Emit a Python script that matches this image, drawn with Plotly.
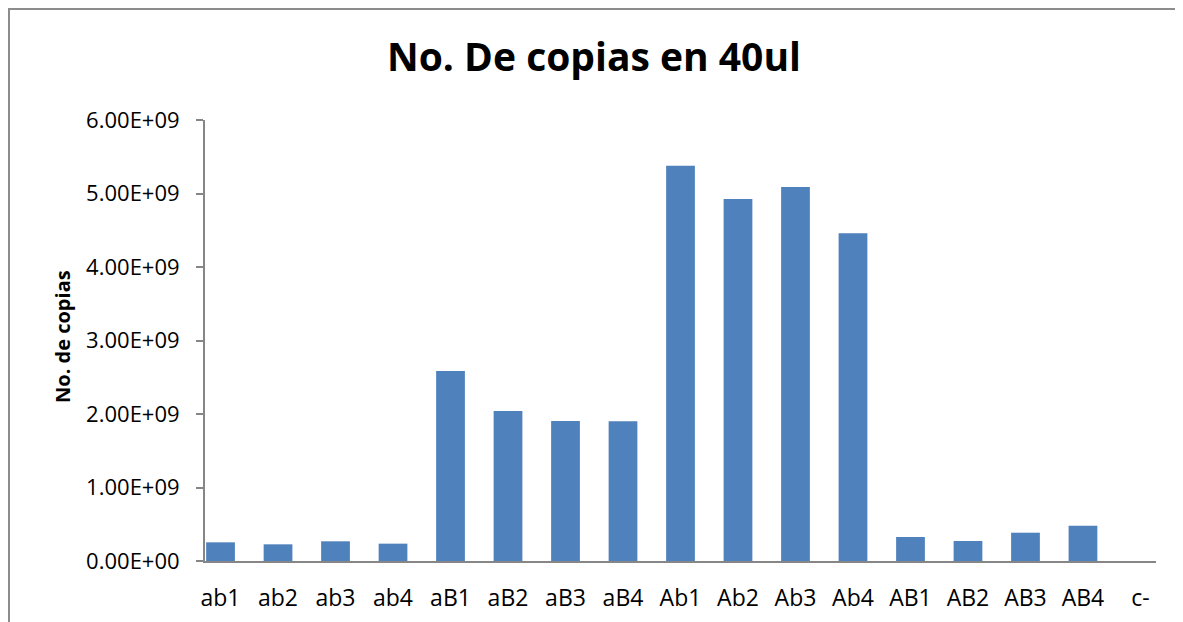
import plotly.graph_objects as go

categories = ["ab1", "ab2", "ab3", "ab4", "aB1", "aB2", "aB3", "aB4",
              "Ab1", "Ab2", "Ab3", "Ab4", "AB1", "AB2", "AB3", "AB4", "c-"]
copies = [0.254e9, 0.227e9, 0.268e9, 0.236e9, 2.585e9, 2.04e9, 1.905e9, 1.90e9,
          5.378e9, 4.925e9, 5.088e9, 4.46e9, 0.327e9, 0.272e9, 0.385e9, 0.48e9, 0.0]
y_tickvals = [0, 1e9, 2e9, 3e9, 4e9, 5e9, 6e9]
y_ticktext = ["0.00E+00", "1.00E+09", "2.00E+09", "3.00E+09", "4.00E+09", "5.00E+09", "6.00E+09"]

# page has an 8px body margin; work in page pixels and convert
OFF = 8
W, H = 1183 - OFF, 622 - OFF
PL, PR, PT, PB = 205, 1156, 120, 561  # plot area in page pixels
L, R, T, B = PL - OFF, W - (PR - OFF), PT - OFF, H - (PB - OFF)
pw, ph = W - L - R, H - T - B

def px_to_paper_x(px):
    return (px - OFF - L) / pw

def px_to_paper_y(py):
    return (H - B - (py - OFF)) / ph

FONT = "Open Sans"
AXC = "#868686"

fig = go.Figure(go.Bar(
    x=list(range(len(categories))), y=copies, width=0.5,
    marker=dict(color="#4f81bd", line=dict(width=0)),
))

fig.update_layout(
    width=W, height=H,
    margin=dict(l=L, r=R, t=T, b=B, autoexpand=False),
    paper_bgcolor="white", plot_bgcolor="white",
    showlegend=False,
    font=dict(family=FONT, color="black"),
    xaxis=dict(
        range=[-0.27, 16.27], tickmode="array",
        tickvals=list(range(len(categories))), ticktext=categories,
        showline=True, linecolor=AXC, linewidth=2, ticks="",
        showgrid=False, zeroline=False,
        tickfont=dict(size=23, family=FONT, color="black"),
        ticklabelstandoff=15,
    ),
    yaxis=dict(
        range=[0, 6e9], tickmode="array", tickvals=y_tickvals, ticktext=y_ticktext,
        showline=True, linecolor=AXC, linewidth=2, ticks="outside", ticklen=7,
        tickcolor=AXC, tickwidth=2,
        showgrid=False, zeroline=False,
        tickfont=dict(size=22, family=FONT, color="black"),
        ticklabelstandoff=12,
    ),
    annotations=[
        dict(text="<b>No. De copias en 40ul</b>", xref="paper", yref="paper",
             x=px_to_paper_x(594), y=px_to_paper_y(56), xanchor="center", yanchor="middle",
             showarrow=False, font=dict(size=39, family=FONT, color="black")),
        dict(text="<b>No. de copias</b>", xref="paper", yref="paper",
             x=px_to_paper_x(62), y=px_to_paper_y(337), xanchor="center", yanchor="middle",
             textangle=-90, showarrow=False, font=dict(size=20, family=FONT, color="black")),
    ],
    shapes=[
        dict(type="rect", xref="paper", yref="paper",
             x0=px_to_paper_x(OFF + 1), x1=px_to_paper_x(1400),
             y0=px_to_paper_y(800), y1=px_to_paper_y(OFF + 1),
             line=dict(color="#8c8c8c", width=2), fillcolor="rgba(0,0,0,0)", layer="below"),
    ],
)

fig.write_html("out.html")
